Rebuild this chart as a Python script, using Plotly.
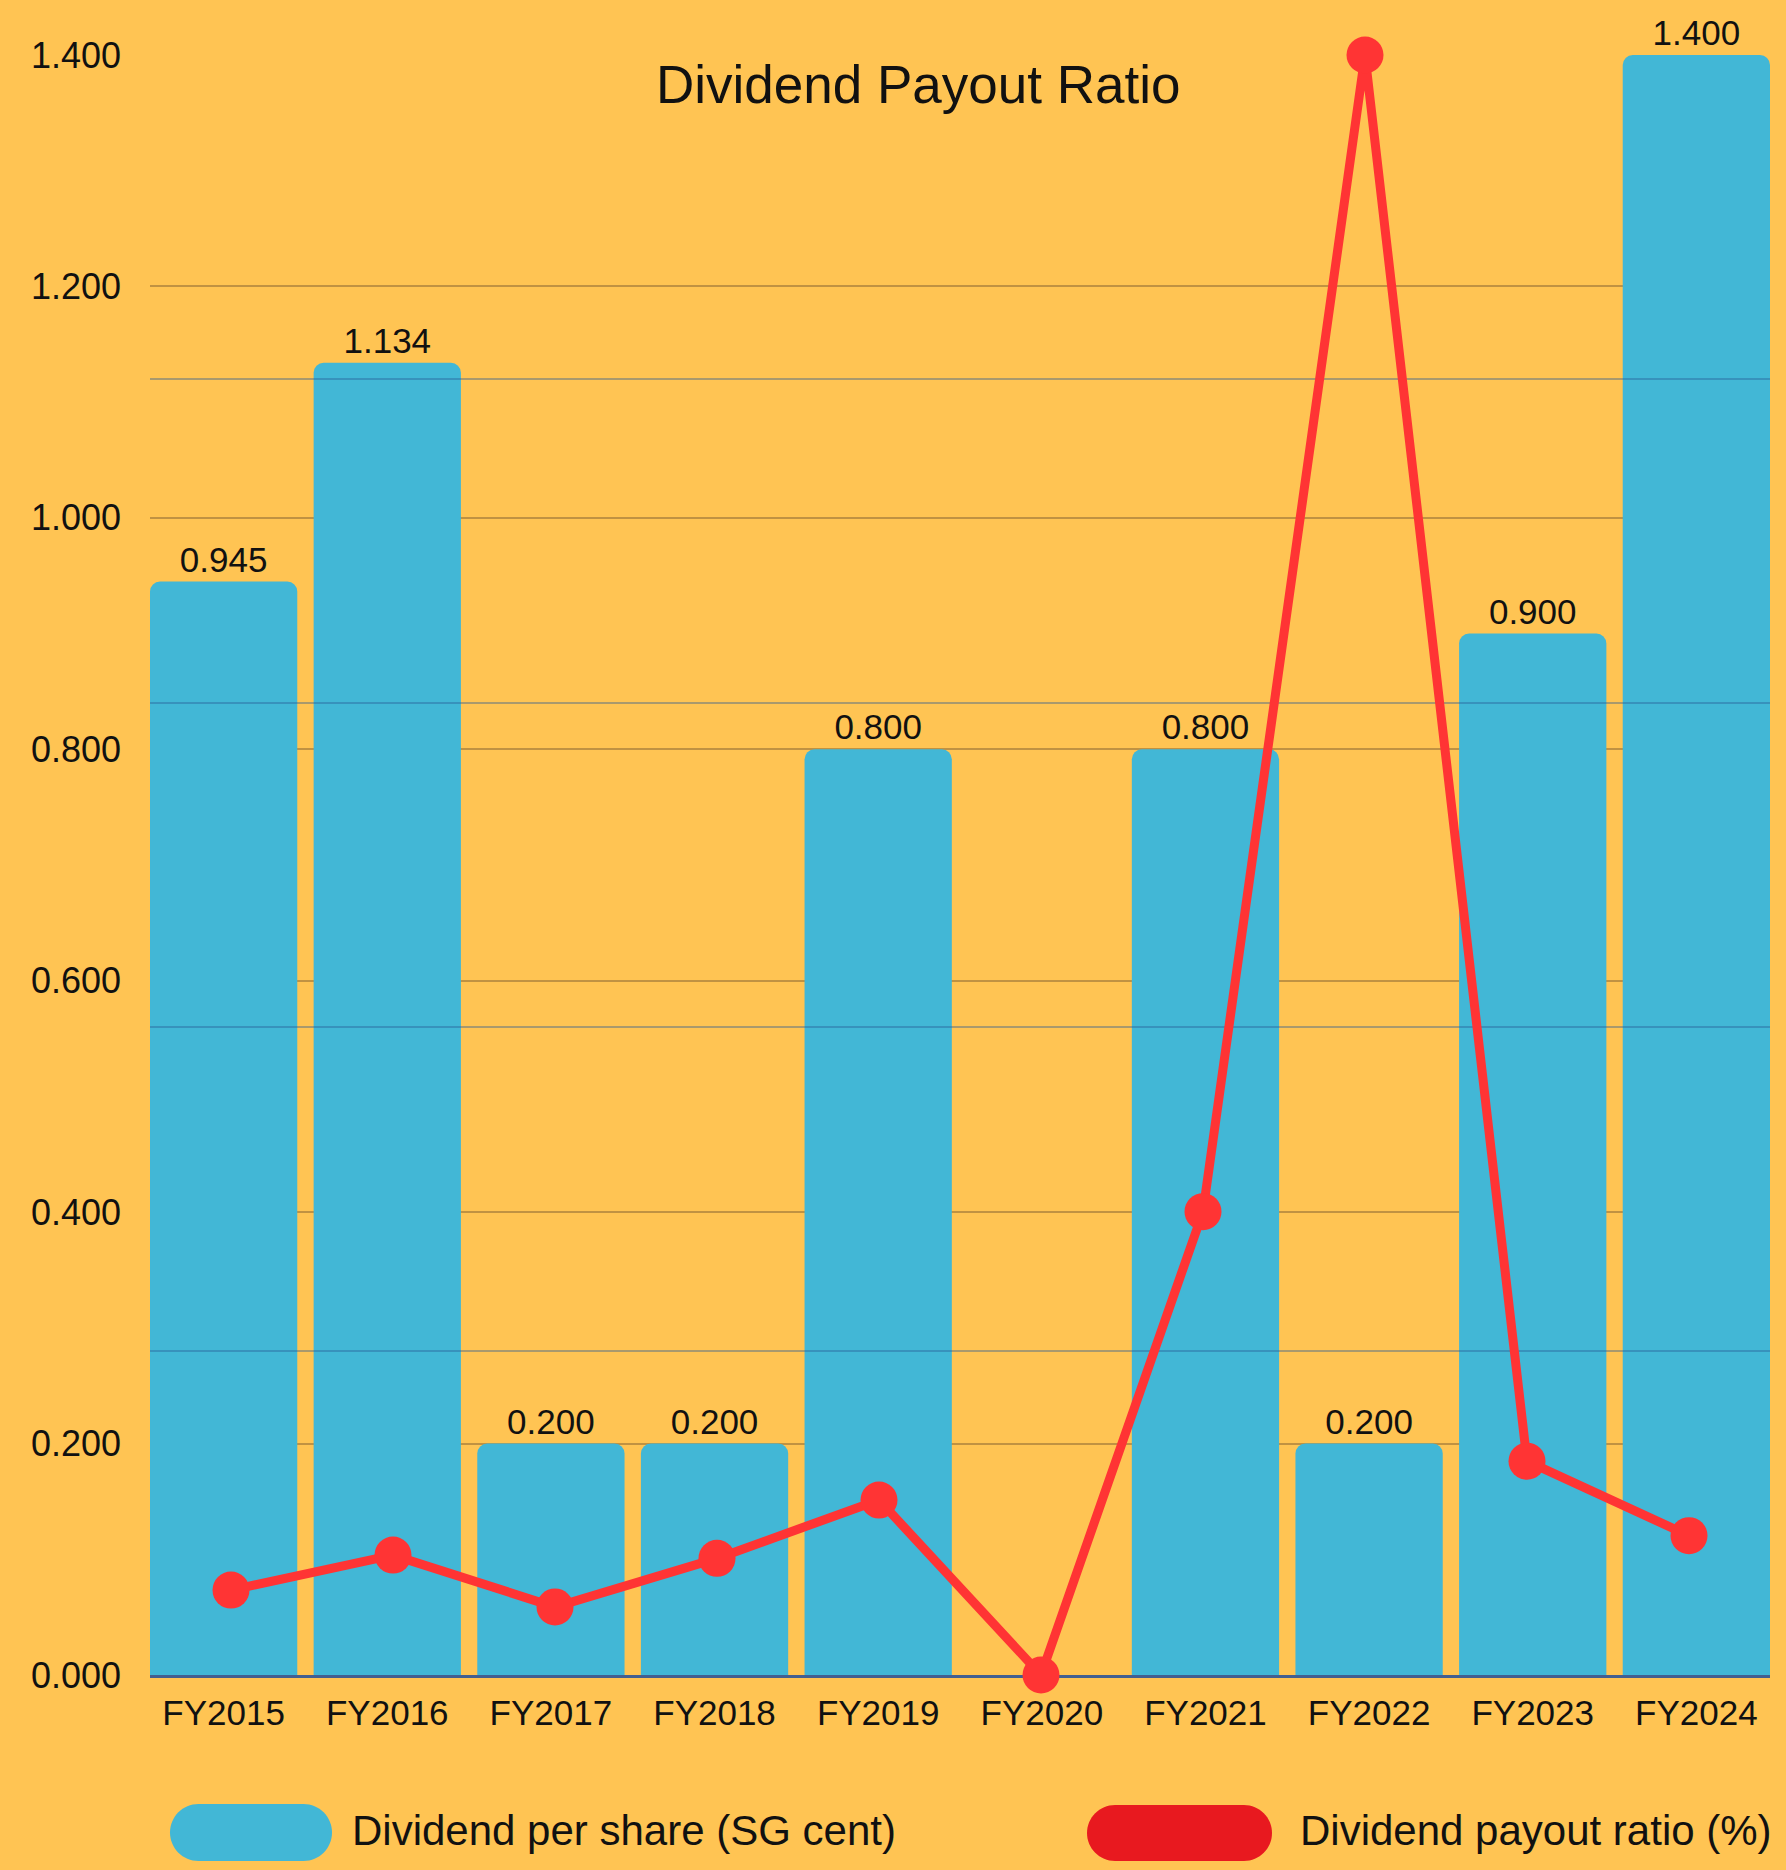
import plotly.graph_objects as go

# ---------------- data ----------------
categories = ["FY2015", "FY2016", "FY2017", "FY2018", "FY2019",
              "FY2020", "FY2021", "FY2022", "FY2023", "FY2024"]
dividend_per_share = [0.945, 1.134, 0.200, 0.200, 0.800, 0.000, 0.800, 0.200, 0.900, 1.400]
payout_ratio = [13.1, 18.5, 10.5, 18.0, 27.0, 0.0, 71.5, 250.0, 33.0, 21.5]
y_tick_values = [0.0, 0.2, 0.4, 0.6, 0.8, 1.0, 1.2, 1.4]
y2_tick_values = [0, 50, 100, 150, 200, 250]
series_names = ["Dividend per share (SG cent)", "Dividend payout ratio (%)"]
chart_title = "Dividend Payout Ratio"

# ---------------- style ----------------
W, H = 1786, 1870
PL, PR, PT, PB = 150, 1770, 55, 1675
BG = "#FFC453"
BAR = "#42B7D6"
LINE = "#FF3434"
LEG_RED = "#E8191F"
FONT = "Liberation Sans, Arial, sans-serif"


def px_x(x):
    return (x - PL) / (PR - PL)


def px_y(y):
    return (PB - y) / (PB - PT)


def pill_path(x0, y0, x1, y1):
    r = (y1 - y0) / 2.0
    k = 0.5523 * r
    ym = (y0 + y1) / 2.0
    pts = [
        ("M", [(x0 + r, y0)]),
        ("L", [(x1 - r, y0)]),
        ("C", [(x1 - r + k, y0), (x1, ym - k), (x1, ym)]),
        ("C", [(x1, ym + k), (x1 - r + k, y1), (x1 - r, y1)]),
        ("L", [(x0 + r, y1)]),
        ("C", [(x0 + r - k, y1), (x0, ym + k), (x0, ym)]),
        ("C", [(x0, ym - k), (x0 + r - k, y0), (x0 + r, y0)]),
    ]
    s = ""
    for cmd, plist in pts:
        s += cmd + " " + " ".join(f"{px_x(a):.5f},{px_y(b):.5f}" for a, b in plist) + " "
    return s + "Z"


bar_text = [f"{v:.3f}" if v > 0 else "" for v in dividend_per_share]

fig = go.Figure()

fig.add_trace(go.Bar(
    x=categories, y=dividend_per_share, name=series_names[0],
    xaxis="x", yaxis="y",
    marker=dict(color=BAR, line=dict(width=0), cornerradius=10),
    text=bar_text, textposition="outside", textangle=0,
    textfont=dict(family=FONT, size=35, color="#111111"),
    cliponaxis=False, showlegend=False,
))

fig.add_trace(go.Scatter(
    x=categories, y=payout_ratio, name=series_names[1],
    xaxis="x2", yaxis="y2", mode="lines+markers",
    line=dict(color=LINE, width=9),
    marker=dict(color=LINE, size=37),
    cliponaxis=False, showlegend=False,
))

shapes = [
    dict(type="path", xref="paper", yref="paper", path=pill_path(170, 1804, 332, 1861),
         fillcolor=BAR, line=dict(width=0)),
    dict(type="path", xref="paper", yref="paper", path=pill_path(1087, 1805, 1272, 1861),
         fillcolor=LEG_RED, line=dict(width=0)),
]

annotations = [
    dict(text=chart_title, xref="paper", yref="paper", x=px_x(918), y=px_y(84),
         xanchor="center", yanchor="middle", showarrow=False,
         font=dict(family=FONT, size=53, color="#111111")),
    dict(text=series_names[0], xref="paper", yref="paper", x=px_x(350), y=px_y(1830),
         xanchor="left", yanchor="middle", showarrow=False,
         font=dict(family=FONT, size=42, color="#111111")),
    dict(text=series_names[1], xref="paper", yref="paper", x=px_x(1298), y=px_y(1830),
         xanchor="left", yanchor="middle", showarrow=False,
         font=dict(family=FONT, size=42, color="#111111")),
]

fig.update_layout(
    width=W, height=H,
    margin=dict(l=PL, r=W - PR, t=PT, b=H - PB, pad=0),
    paper_bgcolor=BG, plot_bgcolor="rgba(0,0,0,0)",
    bargap=0.1,
    showlegend=False,
    font=dict(family=FONT, size=35, color="#111111"),
    xaxis=dict(
        type="category", domain=[0, 1], anchor="y",
        range=[-0.45, len(categories) - 0.55],
        showgrid=False, zeroline=False,
        showline=True, linecolor="rgba(20,70,160,0.8)", linewidth=3,
        ticks="", ticklabelstandoff=5,
        tickfont=dict(family=FONT, size=35, color="#111111"),
        layer="above traces",
    ),
    yaxis=dict(
        domain=[0, 1], anchor="x",
        range=[0, 1.4], tickvals=y_tick_values, tickformat=".3f",
        showgrid=True, gridcolor="rgba(130,95,50,0.5)", gridwidth=1.5,
        zeroline=False, showline=False, ticks="", ticklabelstandoff=28,
        tickfont=dict(family=FONT, size=36, color="#111111"),
    ),
    xaxis2=dict(
        type="category", domain=[0, 1], anchor="y2",
        range=[-0.5, len(categories) - 0.5],
        showgrid=False, zeroline=False, showline=False,
        showticklabels=False, ticks="",
    ),
    yaxis2=dict(
        domain=[0, 1], anchor="x2", side="right",
        range=[0, y2_tick_values[-1]], tickvals=y2_tick_values,
        showgrid=True, gridcolor="rgba(40,90,150,0.4)", gridwidth=2,
        zeroline=False, showline=False, showticklabels=False, ticks="",
    ),
    shapes=shapes,
    annotations=annotations,
)

fig.write_html(
    "out.html",
    config={"displayModeBar": False},
    post_script="document.body.style.margin='0';document.body.style.padding='0';",
)
